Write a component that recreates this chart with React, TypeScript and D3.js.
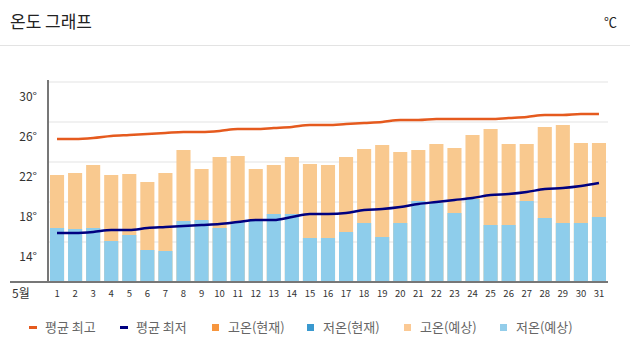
import React from "react";
import * as d3 from "d3";

const days = d3.range(1, 32).map(String);
const highTemps = [20.7, 20.9, 21.7, 20.7, 20.8, 20.0, 20.9, 23.2, 21.3, 22.5, 22.6, 21.3, 21.7, 22.5, 21.8, 21.7, 22.5, 23.3, 23.7, 23.0, 23.2, 23.8, 23.4, 24.7, 25.3, 23.8, 23.8, 25.5, 25.7, 23.9, 23.9];
const lowTemps = [15.4, 15.3, 15.4, 14.1, 14.7, 13.2, 13.1, 16.1, 16.2, 15.4, 16.0, 16.3, 16.8, 16.8, 14.4, 14.4, 15.0, 15.9, 14.5, 15.9, 18.1, 17.9, 16.9, 18.3, 15.7, 15.7, 18.1, 16.4, 15.9, 15.9, 16.5];
const avgMax = [24.3, 24.3, 24.4, 24.6, 24.7, 24.8, 24.9, 25.0, 25.0, 25.1, 25.3, 25.3, 25.4, 25.5, 25.7, 25.7, 25.8, 25.9, 26.0, 26.2, 26.2, 26.3, 26.3, 26.3, 26.3, 26.4, 26.5, 26.7, 26.7, 26.8, 26.8];
const avgMin = [14.9, 14.9, 15.0, 15.2, 15.2, 15.4, 15.5, 15.6, 15.7, 15.8, 16.0, 16.2, 16.2, 16.5, 16.8, 16.8, 16.9, 17.2, 17.3, 17.5, 17.8, 18.0, 18.2, 18.4, 18.7, 18.8, 19.0, 19.3, 19.4, 19.6, 19.9];
const yTicks = [14, 18, 22, 26, 30];
const legendItems = [
  { label: "평균 최고", color: "#E55A1E", kind: "line" },
  { label: "평균 최저", color: "#000080", kind: "line" },
  { label: "고온(현재)", color: "#F7963E", kind: "box" },
  { label: "저온(현재)", color: "#3A99CF", kind: "box" },
  { label: "고온(예상)", color: "#FBC994", kind: "box" },
  { label: "저온(예상)", color: "#93CDEA", kind: "box" },
];
const legendX = [29, 120, 212, 307, 404, 500];

const FONT = "'Noto Sans CJK KR', 'Noto Sans', sans-serif";

export default function App() {
  const W = 630, H = 356;
  const left = 48, right = 608, top = 82, bottom = 282;
  const x = d3.scaleBand<string>().domain(days).range([left, right]).paddingInner(0.22).paddingOuter(0.11);
  const y = d3.scaleLinear().domain([10, 30]).range([bottom, top]);
  const cx = (i: number) => (x(days[i]) as number) + x.bandwidth() / 2;
  const line = d3.line<number>().x((_, i) => cx(i)).y((d) => y(d)).curve(d3.curveMonotoneX);

  return (
    <svg width={W} height={H} style={{ position: "absolute", left: 0, top: 0, fontFamily: FONT }}>
      <rect width={W} height={H} fill="#fff" />
      <text x={10} y={28} fontSize={17} fill="#222">온도 그래프</text>
      <text x={617} y={27} fontSize={13} fill="#222" textAnchor="end">℃</text>
      <line x1={0} x2={630} y1={45.5} y2={45.5} stroke="#e3e3e3" strokeWidth={1} />

      {yTicks.map((t) => (
        <g key={t}>
          <line x1={left} x2={right} y1={y(t)} y2={y(t)} stroke="#ececec" strokeWidth={1.5} />
          <text x={37} y={y(t) + 19} fontSize={12} fill="#333" textAnchor="end">{t}°</text>
        </g>
      ))}

      {days.map((d, i) => (
        <g key={d}>
          <rect x={x(d)} y={y(highTemps[i])} width={x.bandwidth()} height={bottom - y(highTemps[i])} fill="#F9C98F" />
          <rect x={x(d)} y={y(lowTemps[i])} width={x.bandwidth()} height={bottom - y(lowTemps[i])} fill="#8ECDEB" />
          <text x={cx(i)} y={297} fontSize={9.5} fill="#333" textAnchor="middle">{d}</text>
        </g>
      ))}

      <path d={line(avgMax) || ""} fill="none" stroke="#E55A1E" strokeWidth={2.5} />
      <path d={line(avgMin) || ""} fill="none" stroke="#000080" strokeWidth={2.5} />

      <line x1={left} x2={left} y1={80} y2={bottom} stroke="#777" strokeWidth={2} />
      <line x1={10} x2={right} y1={bottom} y2={bottom} stroke="#777" strokeWidth={2} />
      <text x={12} y={298} fontSize={12} fill="#333">5월</text>

      {legendItems.map((it, i) => (
        <g key={it.label}>
          {it.kind === "line" ? (
            <rect x={legendX[i]} y={326} width={8} height={3} fill={it.color} />
          ) : (
            <rect x={legendX[i]} y={324} width={7} height={7} fill={it.color} />
          )}
          <text x={legendX[i] + 16} y={332} fontSize={13} fill="#666">{it.label}</text>
        </g>
      ))}
    </svg>
  );
}
